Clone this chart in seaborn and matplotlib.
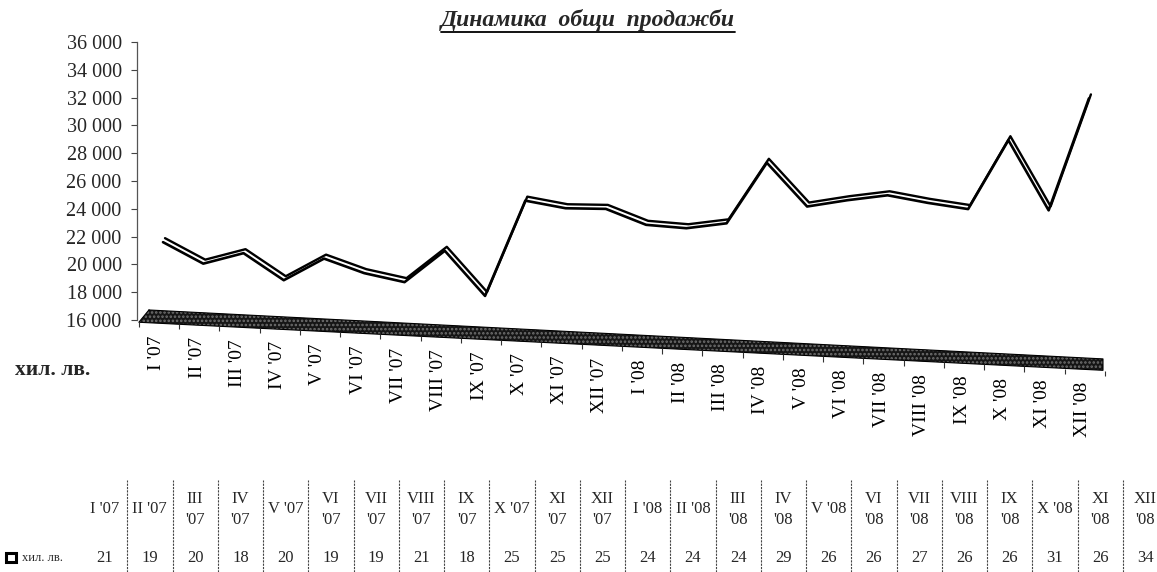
import numpy as np
import pandas as pd
import matplotlib
matplotlib.use("Agg")
import matplotlib.pyplot as plt
import matplotlib.transforms as mtransforms
from matplotlib.lines import Line2D
from matplotlib.patches import Rectangle
import seaborn as sns

# ---------------- data ----------------
months = ["I", "II", "III", "IV", "V", "VI", "VII", "VIII", "IX", "X", "XI", "XII"]
years = ["'07", "'08"]
categories = [f"{m} {y}" for y in years for m in months]
sales = [20700, 19300, 20200, 18400, 20100, 19200, 18700, 21100, 18000, 25000, 24600, 24700,
         23700, 23600, 24100, 28600, 25600, 26200, 26700, 26300, 26000, 31100, 26200, 34400]
y_ticks = [16000, 18000, 20000, 22000, 24000, 26000, 28000, 30000, 32000, 34000, 36000]
title = "Динамика  общи  продажби"
unit = "хил. лв."

df = pd.DataFrame({"idx": np.arange(len(categories)), "cat": categories, "sales": sales})

# ---------------- style ----------------
sns.set_theme(style="white")
plt.rcParams["font.family"] = ["Liberation Serif", "DejaVu Serif"]
plt.rcParams["hatch.linewidth"] = 1.2

W, H = 1157, 572
fig = plt.figure(figsize=(W / 100, H / 100), dpi=100)
fig.patch.set_facecolor("white")

def fx(px):
    return px / W

def fy(py):
    return 1 - py / H

ax = fig.add_axes([fx(137), fy(320), fx(1103) - fx(137), fy(42) - fy(320)])
ax.set_facecolor("none")

# perspective shear imitating the 3-D floor tilt
SLOPE, SHIFT = 146.0, 900.0
skew = mtransforms.Affine2D(np.array([[1, 0, 0], [-SLOPE, 1, SHIFT], [0, 0, 1]])) + ax.transData

# floor slab
x0, x1 = -0.646, 23.35
floor_x = [-0.35, x1, x1, -0.6]
floor_y = [15770, 15710, 14890, 14850]
ax.fill(floor_x, floor_y, facecolor="#161616", edgecolor="#707070", hatch="....",
        linewidth=0, transform=skew, clip_on=False, zorder=2)
ax.plot(floor_x + [floor_x[0]], floor_y + [floor_y[0]], color="black", lw=0.8,
        transform=skew, clip_on=False, zorder=2)
# floor tick marks
ax.vlines(np.arange(len(categories) + 1) - 0.6, 14880 - 380, 14880, colors="#333333",
          lw=0.8, transform=skew, clip_on=False)

# the 3-D ribbon line: white band between a front and a back edge
mid = mtransforms.offset_copy(skew, fig=fig, x=1, y=2, units="dots")
back = mtransforms.offset_copy(skew, fig=fig, x=2, y=4, units="dots")
sns.lineplot(data=df, x="idx", y="sales", color="white", lw=2.6, ax=ax,
             transform=mid, legend=False, zorder=4)
sns.lineplot(data=df, x="idx", y="sales", color="black", lw=1.7, ax=ax,
             transform=back, legend=False, zorder=5)
sns.lineplot(data=df, x="idx", y="sales", color="black", lw=1.9, ax=ax,
             transform=skew, legend=False, zorder=5)

# category labels following the tilted floor
for i, c in enumerate(categories):
    ax.text(i - 0.15, 13990, c, rotation=90, ha="center", va="top", fontsize=14,
            transform=skew, clip_on=False, color="black")

ax.set_xlim(x0, x1)
ax.set_ylim(16000, 36000)
ax.set_xticks([])
ax.set_yticks(y_ticks)
ax.set_yticklabels([f"{v:,}".replace(",", " ") for v in y_ticks], fontsize=14.5)
ax.tick_params(axis="y", left=True, length=4, width=0.8, color="#444444", pad=7)
ax.set_xlabel("")
ax.set_ylabel("")
for s in ["top", "right", "bottom"]:
    ax.spines[s].set_visible(False)
ax.spines["left"].set_linestyle((0, (1, 1)))
ax.spines["left"].set_color("#555555")
ax.spines["left"].set_linewidth(0.9)

# title and unit label
t = fig.text(fx(588), fy(20), title, ha="center", va="center", fontsize=17,
             fontweight="bold", fontstyle="italic")
fig.text(fx(15), fy(370), unit, ha="left", va="center", fontsize=15.5, fontweight="bold")

# ---------------- data table ----------------
tab = fig.add_axes([fx(82), 0, fx(1168) - fx(82), fy(480)])
tab.set_xlim(0, len(categories))
tab.set_ylim(0, 1)
tab.axis("off")
tab.vlines(np.arange(1, len(categories)), 0, 1, colors="#444444", lw=0.8,
           linestyles=(0, (2, 1)), clip_on=False)
short = {"I", "II", "V", "X"}
for i, c in enumerate(categories):
    m, y = c.split(" ")
    head = c if m in short else f"{m}\n{y}"
    tab.text(i + 0.5, 0.68, head, ha="center", va="center", fontsize=12,
             linespacing=1.45, clip_on=False)
    tab.text(i + 0.5, 0.152, f"{int(round(sales[i] / 1000))}", ha="center",
             va="center", fontsize=12, clip_on=False)

# legend key
fig.add_artist(Rectangle((fx(6), fy(562)), fx(10), fy(553) - fy(562),
                         facecolor="white", edgecolor="black", lw=2.2))
fig.text(fx(22), fy(558), unit, ha="left", va="center", fontsize=9)

# underline title
fig.canvas.draw()
bb = t.get_window_extent()
fig.add_artist(Line2D([bb.x0 / W, bb.x1 / W], [(bb.y0 - 1) / H, (bb.y0 - 1) / H],
                      color="black", lw=1.3))

fig.savefig("out.png", dpi=100)
